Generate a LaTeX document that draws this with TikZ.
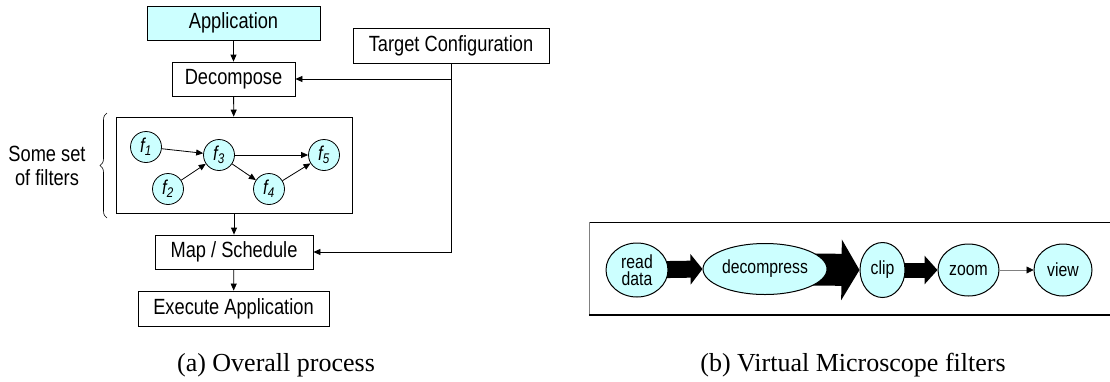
\documentclass[tikz,border=0pt]{standalone}
\usepackage{fontspec}
\setmainfont{Liberation Serif}
\setsansfont{Liberation Sans}[FakeStretch=0.83]
\usetikzlibrary{arrows.meta,shapes.geometric,decorations.pathreplacing,backgrounds}
\definecolor{fcyan}{HTML}{CCFFFF}
\tikzset{
  box/.style={draw=black, line width=0.8pt, inner sep=0pt, font=\sffamily\fontsize{22}{24}\selectfont},
  filt/.style={circle, draw=black, line width=0.8pt, fill=fcyan, inner sep=0pt, minimum size=31pt, font=\sffamily\fontsize{20}{21}\selectfont},
  vm/.style={ellipse, draw=black, line width=1pt, fill=fcyan, inner sep=0pt, align=center, font=\sffamily\fontsize{19}{17}\selectfont},
  arr/.style={line width=0.8pt, -{Triangle[length=7pt,width=6pt]}},
  captext/.style={font=\fontsize{26}{28}\selectfont, anchor=base},
}
\newcommand{\fl}[1]{{\itshape f}\textsubscript{\itshape #1}}
\begin{document}
\begin{tikzpicture}[x=1pt,y=-1pt]
\useasboundingbox (0,0) rectangle (1110,381);
% ---------- (a) ----------
\node[box, fill=fcyan, minimum width=173pt, minimum height=34pt] (app) at (233.5,23) {Application};
\node[box, minimum width=123pt, minimum height=34pt] (dec) at (233.5,79) {Decompose};
\node[box, minimum width=196pt, minimum height=35pt] (tc) at (451,45.5) {Target Configuration};
\node[box, minimum width=236pt, minimum height=96pt] (fs) at (234,165) {};
\node[box, minimum width=158pt, minimum height=34pt] (map) at (234,252) {Map / Schedule};
\node[box, minimum width=191pt, minimum height=35pt] (exe) at (233.5,308.5) {Execute Application};

\node[filt] (f1) at (146,147) {\fl{1}};
\node[filt] (f2) at (168,189) {\fl{2}};
\node[filt] (f3) at (219,155) {\fl{3}};
\node[filt] (f4) at (269,189) {\fl{4}};
\node[filt] (f5) at (324,155) {\fl{5}};

\draw[arr] (f1) -- (f3);
\draw[arr] (f2) -- (f3);
\draw[arr] (f3) -- (f5);
\draw[arr] (f3) -- (f4);
\draw[arr] (f4) -- (f5);

\draw[arr] (app) -- (dec);
\draw[arr] (dec) -- (fs);
\draw[arr] (fs) -- (map);
\draw[arr] (map) -- (exe);
\draw[arr] (tc.south) |- (dec.east);
\draw[arr] (tc.south) |- (map.east);

\coordinate (bt) at (107,113);
\coordinate (bb) at (107,218);
\draw[line width=0.6pt, decorate, decoration={brace, amplitude=7pt}] (bb) -- (bt);
\node[align=center, font=\sffamily\fontsize{22}{24}\selectfont] (sl) at (47,166) {Some set\\of filters};

\node[captext] (capa) at (276,371) {(a) Overall process};

% ---------- (b) ----------
\draw[black, line width=1pt] (1112,222) -- (589,222);
\draw[gray, line width=0.8pt] (589,222) -- (589,315);
\draw[black, line width=1.5pt] (589,315) -- (1112,315);

\node[vm, minimum width=62pt, minimum height=54pt] (rd) at (637,270) {read\\data};
\node[vm, minimum width=124pt, minimum height=51pt] (dc) at (765,269) {decompress};
\node[vm, minimum width=45pt, minimum height=55pt] (cl) at (882.5,270) {clip};
\node[vm, minimum width=61pt, minimum height=52pt] (zm) at (968.5,270) {zoom};
\node[vm, minimum width=58pt, minimum height=52pt] (vw) at (1063,270) {view};

\begin{scope}[on background layer]
\draw[line width=17pt, -{Triangle[length=12pt,width=30pt]}] (rd.center) -- (dc.west);
\draw[line width=32pt, -{Triangle[length=18pt,width=60pt]}] (dc.center) -- (cl.west);
\draw[line width=15pt, -{Triangle[length=13pt,width=28pt]}] (cl.center) -- (zm.west);
\end{scope}
\draw[gray, line width=0.6pt, -{Triangle[length=7pt,width=7pt,fill=black,color=black]}] (zm) -- (vw);

\node[captext] (capb) at (853,371) {(b) Virtual Microscope filters};
\end{tikzpicture}
\end{document}
